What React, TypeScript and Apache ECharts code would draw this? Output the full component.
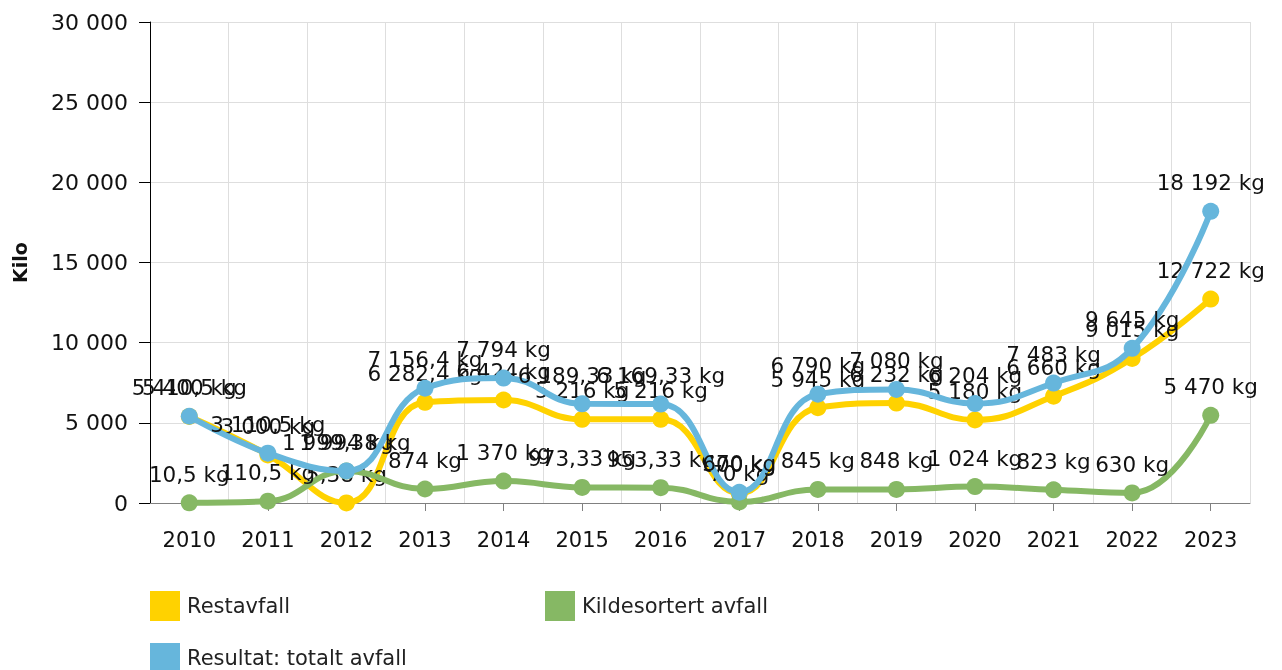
import React, { useEffect, useRef } from "react";
import * as echarts from "echarts";

const years = ["2010", "2011", "2012", "2013", "2014", "2015", "2016", "2017", "2018", "2019", "2020", "2021", "2022", "2023"];
const restavfall = [5400, 3000, 5.38, 6282.4, 6424, 5216, 5216, 600, 5945, 6232, 5180, 6660, 9015, 12722];
const kildesortert = [10.5, 110.5, 1994, 874, 1370, 973.33, 953.33, 70, 845, 848, 1024, 823, 630, 5470];
const totalt = [5410.5, 3110.5, 1999.38, 7156.4, 7794, 6189.33, 6169.33, 670, 6790, 7080, 6204, 7483, 9645, 18192];

const seriesNames = ["Restavfall", "Kildesortert avfall", "Resultat: totalt avfall"];
const seriesColors = ["#FFD200", "#86B864", "#66B6DC"];

const FONT = 'Verdana, "DejaVu Sans", sans-serif';

function fmtNum(v: number): string {
  const r = Math.round(v * 100) / 100;
  const parts = r.toString().split(".");
  const ii = parts[0].replace(/\B(?=(\d{3})+(?!\d))/g, " ");
  return parts[1] ? ii + "," + parts[1] : ii;
}

export default function App() {
  const ref = useRef<HTMLDivElement>(null);
  useEffect(() => {
    if (!ref.current) return;
    const chart = echarts.init(ref.current, null, { renderer: "svg" });
    const datasets = [restavfall, kildesortert, totalt];
    const series = datasets.map((d, i) => ({
      name: seriesNames[i],
      type: "line",
      data: d,
      smooth: 0.45,
      symbol: "circle",
      symbolSize: 17,
      lineStyle: { width: 6, color: seriesColors[i] },
      itemStyle: { color: seriesColors[i] },
      label: {
        show: true,
        position: "top",
        distance: 9,
        color: "#111",
        fontFamily: FONT,
        fontSize: 21.5,
        formatter: (p: any) => fmtNum(p.value) + " kg",
      },
      z: 2 + i,
    }));
    const legendLefts = [150, 545, 150];
    const legendTops = [591, 591, 643];
    chart.setOption({
      animation: false,
      textStyle: { fontFamily: FONT },
      grid: { left: 150, right: 32, top: 22, bottom: 167 },
      legend: seriesNames.map((n, i) => ({
        data: [n],
        left: legendLefts[i],
        top: legendTops[i],
        icon: "rect",
        itemWidth: 30,
        itemHeight: 30,
        itemGap: 0,
        padding: 0,
        selectedMode: false,
        textStyle: { fontFamily: FONT, fontSize: 21, color: "#222", padding: [0, 0, 0, 2] },
      })),
      xAxis: {
        type: "category",
        data: years,
        boundaryGap: true,
        axisLine: { lineStyle: { color: "#808080", width: 1 } },
        axisTick: { show: true, alignWithLabel: true, length: 8, lineStyle: { color: "#808080" } },
        axisLabel: { color: "#111", fontSize: 21, fontFamily: FONT, margin: 26 },
        splitLine: { show: true, lineStyle: { color: "#dedede", width: 1 } },
      },
      yAxis: {
        type: "value",
        min: 0,
        max: 30000,
        interval: 5000,
        name: "Kilo",
        nameLocation: "middle",
        nameGap: 121,
        nameTextStyle: { fontWeight: "bold", fontSize: 19, color: "#111", fontFamily: FONT },
        axisLine: { show: true, lineStyle: { color: "#000", width: 1 } },
        axisTick: { show: true, length: 11, lineStyle: { color: "#000" } },
        axisLabel: { color: "#111", fontSize: 22, fontFamily: FONT, margin: 22, formatter: (v: number) => fmtNum(v) },
        splitLine: { show: true, lineStyle: { color: "#dedede", width: 1 } },
      },
      series,
    });
    return () => chart.dispose();
  }, []);
  return <div ref={ref} style={{ position: "fixed", left: 0, top: 0, width: 1282, height: 670 }} />;
}
